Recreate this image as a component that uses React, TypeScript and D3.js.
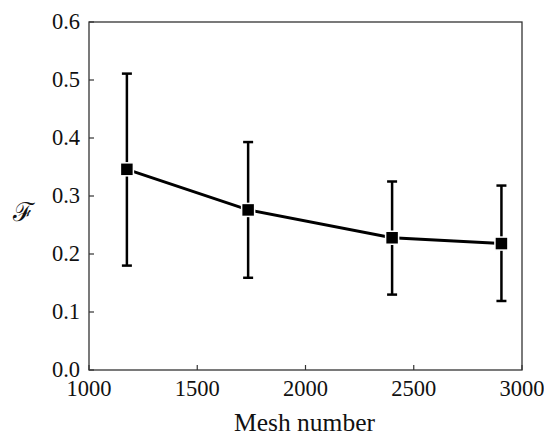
import React from "react";
import * as d3 from "d3";

const meshNumbers = [1175, 1735, 2400, 2905];
const meanValues = [0.346, 0.276, 0.228, 0.218];
const upperValues = [0.511, 0.393, 0.325, 0.318];
const lowerValues = [0.18, 0.159, 0.13, 0.119];
const xTicks = [1000, 1500, 2000, 2500, 3000];
const yTicks = [0, 0.1, 0.2, 0.3, 0.4, 0.5, 0.6];

const W = 544, H = 437;
const M = { left: 89, right: 22, top: 22, bottom: 67 };

export default function App() {
  const x = d3.scaleLinear().domain([1000, 3000]).range([M.left, W - M.right]);
  const y = d3.scaleLinear().domain([0, 0.6]).range([H - M.bottom, M.top]);
  const line = d3.line<number>().x((_, i) => x(meshNumbers[i])).y((d) => y(d));
  const fontStyle = { fontFamily: "Liberation Serif, Times New Roman, DejaVu Serif, serif" };
  return (
    <svg width={W} height={H} style={{ position: "absolute", left: 0, top: 0, background: "#fff" }}>
      <rect x={M.left} y={M.top} width={W - M.left - M.right} height={H - M.top - M.bottom} fill="none" stroke="#333" strokeWidth={1.3} />
      {xTicks.map((t) => (
        <g key={t}>
          <line x1={x(t)} x2={x(t)} y1={y(0)} y2={y(0) - 5} stroke="#333" strokeWidth={1.2} />
          <text x={x(t)} y={y(0) + 26} textAnchor="middle" style={fontStyle} fontSize={22.5} fill="#111">{t}</text>
        </g>
      ))}
      {yTicks.map((t) => (
        <g key={t}>
          <line x1={M.left} x2={M.left + 5} y1={y(t)} y2={y(t)} stroke="#333" strokeWidth={1.2} />
          <text x={M.left - 9} y={y(t) + 7} textAnchor="end" style={fontStyle} fontSize={22.5} fill="#111">{t.toFixed(1)}</text>
        </g>
      ))}
      <text x={(M.left + W - M.right) / 2 - 1} y={431} textAnchor="middle" style={fontStyle} fontSize={25.5} fill="#111">Mesh number</text>
      <text x={23} y={221} textAnchor="middle" style={fontStyle} fontSize={26} fill="#111">ℱ</text>
      <path d={line(meanValues) || ""} fill="none" stroke="#000" strokeWidth={3} />
      {meshNumbers.map((m, i) => (
        <g key={m}>
          <line x1={x(m)} x2={x(m)} y1={y(upperValues[i])} y2={y(lowerValues[i])} stroke="#000" strokeWidth={2.5} />
          <line x1={x(m) - 5} x2={x(m) + 5} y1={y(upperValues[i])} y2={y(upperValues[i])} stroke="#000" strokeWidth={2.5} />
          <line x1={x(m) - 5} x2={x(m) + 5} y1={y(lowerValues[i])} y2={y(lowerValues[i])} stroke="#000" strokeWidth={2.5} />
          <rect x={x(m) - 6.5} y={y(meanValues[i]) - 6.5} width={13} height={13} fill="#000" stroke="#fff" strokeWidth={1.5} />
        </g>
      ))}
    </svg>
  );
}
